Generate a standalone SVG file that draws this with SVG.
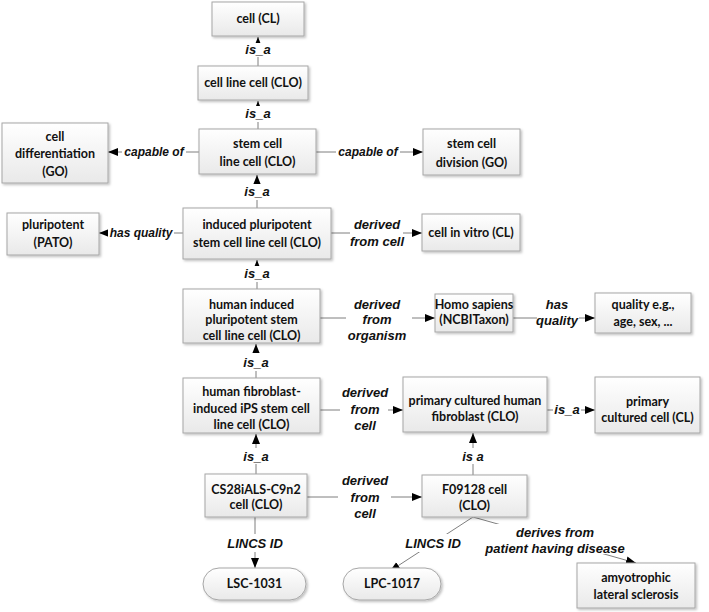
<svg xmlns="http://www.w3.org/2000/svg" width="709" height="612" viewBox="0 0 709 612">
<style>
.box{fill:url(#g);stroke:#a6a6a6;stroke-width:1;filter:url(#sh)}
.t{font-family:Lato,"Liberation Sans",sans-serif;font-weight:bold;font-size:12.5px;fill:#111;text-anchor:middle}
.e{stroke:#7f7f7f;stroke-width:1;fill:none}
.ea{stroke:#7f7f7f;stroke-width:1;fill:none;marker-end:url(#ah)}
.l{font-family:"Liberation Sans",Arial,sans-serif;font-weight:bold;font-style:italic;font-size:13px;fill:#111;text-anchor:middle}
.s{font-size:12px}
.bg{fill:#fff}
</style>
<defs>
<linearGradient id="g" x1="0" y1="0" x2="0" y2="1">
<stop offset="0" stop-color="#ffffff"/>
<stop offset="1" stop-color="#e9e9e9"/>
</linearGradient>
<filter id="sh" x="-10%" y="-10%" width="130%" height="140%">
<feDropShadow dx="1.5" dy="1.5" stdDeviation="1" flood-color="#000" flood-opacity="0.25"/>
</filter>
<marker id="ah" markerUnits="userSpaceOnUse" markerWidth="10" markerHeight="10" viewBox="0 0 10 10" refX="10" refY="5" orient="auto">
<path d="M0,1 L10,5 L0,9 Z" fill="#000"/>
</marker>
</defs>
<rect width="709" height="612" fill="#fff"/>

<g id="connectors">
<path class="ea" d="M258,66 V37"/>
<path class="ea" d="M258,129 V101"/>
<path class="ea" d="M257,208 V175"/>
<path class="ea" d="M257,289 V260"/>
<path class="ea" d="M256,378 V344"/>
<path class="ea" d="M256,474 V434"/>
<path class="ea" d="M473,475 V433"/>
<path class="ea" d="M199,152 H108"/>
<path class="ea" d="M316,152 H423"/>
<path class="ea" d="M183,233 H99"/>
<path class="ea" d="M331,233 H422"/>
<path class="ea" d="M320,318 H435"/>
<path class="ea" d="M513,318 H595"/>
<path class="ea" d="M320,410 H403"/>
<path class="ea" d="M547,410 H595"/>
<path class="ea" d="M307,497 H422"/>
<path class="ea" d="M255,517 V568"/>
<path class="ea" d="M473,517 L390,571"/>
<path class="ea" d="M473,517 L636,563"/>
<!-- labels -->
<rect class="bg" x="244" y="43" width="28" height="14"/>
<text class="l" x="258" y="54">is_a</text>
<rect class="bg" x="244" y="106" width="28" height="16"/>
<text class="l" x="258" y="118">is_a</text>
<rect class="bg" x="243" y="184" width="28" height="16"/>
<text class="l" x="257" y="196">is_a</text>
<rect class="bg" x="243" y="266" width="28" height="16"/>
<text class="l" x="257" y="278">is_a</text>
<rect class="bg" x="242" y="353" width="28" height="18"/>
<text class="l" x="256" y="367">is_a</text>
<rect class="bg" x="242" y="448" width="28" height="16"/>
<text class="l" x="256" y="461">is_a</text>
<rect class="bg" x="459" y="448" width="28" height="16"/>
<text class="l" x="473" y="461">is a</text>
<rect class="bg" x="122" y="145" width="64" height="14"/>
<text class="l s" x="154" y="156">capable of</text>
<rect class="bg" x="336" y="145" width="64" height="14"/>
<text class="l s" x="368" y="156">capable of</text>
<rect class="bg" x="108" y="226" width="66" height="14"/>
<text class="l s" x="141" y="237">has quality</text>
<rect class="bg" x="350" y="216" width="53" height="34"/>
<text class="l" x="377" y="229">derived</text>
<text class="l" x="377" y="246">from cell</text>
<rect class="bg" x="346" y="296" width="66" height="46"/>
<text class="l" x="377" y="309">derived</text>
<text class="l" x="377" y="324">from</text>
<text class="l" x="377" y="340">organism</text>
<rect class="bg" x="537" y="297" width="42" height="30"/>
<text class="l" x="557" y="309">has</text>
<text class="l" x="557" y="325">quality</text>
<rect class="bg" x="340" y="384" width="48" height="46"/>
<text class="l" x="365" y="397">derived</text>
<text class="l" x="365" y="414">from</text>
<text class="l" x="365" y="430">cell</text>
<rect class="bg" x="553" y="403" width="28" height="14"/>
<text class="l" x="567" y="414">is_a</text>
<rect class="bg" x="338" y="472" width="53" height="46"/>
<text class="l" x="365" y="485">derived</text>
<text class="l" x="365" y="502">from</text>
<text class="l" x="365" y="518">cell</text>
<rect class="bg" x="224" y="534" width="62" height="18"/>
<text class="l" x="255" y="548">LINCS ID</text>
<rect class="bg" x="402" y="534" width="62" height="18"/>
<text class="l" x="433" y="548">LINCS ID</text>
<rect class="bg" x="483" y="524" width="144" height="30"/>
<text class="l" x="555" y="537">derives from</text>
<text class="l" x="555" y="553">patient having disease</text>
</g>

<g id="n1"><rect class="box" x="212" y="2" width="92" height="34"/><text class="t" x="258" y="23">cell (CL)</text></g>
<g id="n2"><rect class="box" x="198" y="66" width="110" height="34"/><text class="t" x="253" y="87">cell line cell (CLO)</text></g>
<g id="n3"><rect class="box" x="199" y="129" width="117" height="45"/><text class="t" x="257.5" y="148">stem cell</text><text class="t" x="257.5" y="166">line cell (CLO)</text></g>
<g id="n4"><rect class="box" x="2" y="123" width="106" height="60"/><text class="t" x="55" y="141">cell</text><text class="t" x="55" y="158">differentiation</text><text class="t" x="55" y="176">(GO)</text></g>
<g id="n5"><rect class="box" x="423" y="129" width="97" height="46"/><text class="t" x="471.5" y="148">stem cell</text><text class="t" x="471.5" y="167">division (GO)</text></g>
<g id="n6"><rect class="box" x="183" y="208" width="148" height="51"/><text class="t" x="257" y="229">induced pluripotent</text><text class="t" x="257" y="247">stem cell line cell (CLO)</text></g>
<g id="n7"><rect class="box" x="7" y="213" width="92" height="42"/><text class="t" x="53" y="229">pluripotent</text><text class="t" x="53" y="247">(PATO)</text></g>
<g id="n8"><rect class="box" x="422" y="214" width="98" height="37"/><text class="t" x="471" y="237">cell in vitro (CL)</text></g>
<g id="n9"><rect class="box" x="183" y="289" width="137" height="54"/><text class="t" x="251.5" y="309">human induced</text><text class="t" x="251.5" y="324">pluripotent stem</text><text class="t" x="251.5" y="340">cell line cell (CLO)</text></g>
<g id="n10"><rect class="box" x="435" y="294" width="78" height="38"/><text class="t" x="474" y="309">Homo sapiens</text><text class="t" x="474" y="324">(NCBITaxon)</text></g>
<g id="n11"><rect class="box" x="595" y="293" width="96" height="40"/><text class="t" x="643" y="309">quality e.g.,</text><text class="t" x="643" y="326">age, sex, ...</text></g>
<g id="n12"><rect class="box" x="183" y="378" width="137" height="55"/><text class="t" x="251.5" y="396">human fibroblast-</text><text class="t" x="251.5" y="413">induced iPS stem cell</text><text class="t" x="251.5" y="429">line cell (CLO)</text></g>
<g id="n13"><rect class="box" x="403" y="377" width="144" height="55"/><text class="t" x="475" y="405">primary cultured human</text><text class="t" x="475" y="421">fibroblast (CLO)</text></g>
<g id="n14"><rect class="box" x="595" y="377" width="105" height="56"/><text class="t" x="647.5" y="406">primary</text><text class="t" x="647.5" y="422">cultured cell (CL)</text></g>
<g id="n15"><rect class="box" x="205" y="474" width="102" height="43"/><text class="t" x="256" y="494">CS28iALS-C9n2</text><text class="t" x="256" y="509">cell (CLO)</text></g>
<g id="n16"><rect class="box" x="422" y="475" width="105" height="42"/><text class="t" x="474.5" y="494">F09128 cell</text><text class="t" x="474.5" y="510">(CLO)</text></g>
<g id="n17"><rect class="box" x="203" y="568" width="103" height="32" rx="16"/><text class="t" x="254.5" y="588">LSC-1031</text></g>
<g id="n18"><rect class="box" x="343" y="568" width="98" height="32" rx="16"/><text class="t" x="392" y="588">LPC-1017</text></g>
<g id="n19"><rect class="box" x="577" y="563" width="118" height="45"/><text class="t" x="636" y="582">amyotrophic</text><text class="t" x="636" y="599">lateral sclerosis</text></g>
</svg>
